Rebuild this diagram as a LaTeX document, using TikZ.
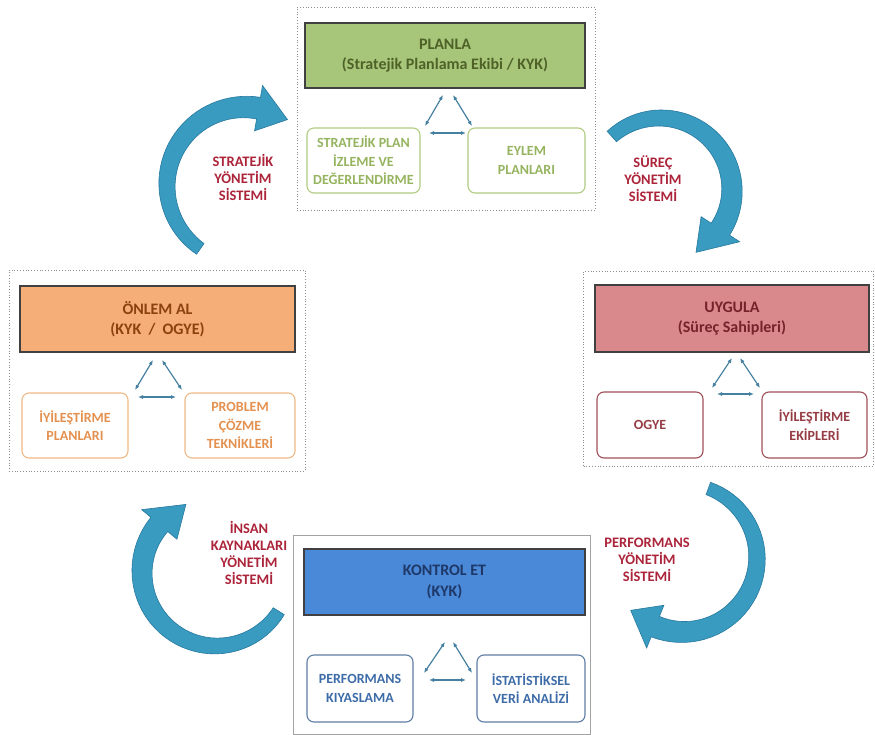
\documentclass[tikz,border=0pt]{standalone}
\usepackage{fontspec}
\setmainfont{Carlito}
\usetikzlibrary{arrows.meta}
\definecolor{arrowfill}{RGB}{58,155,192}
\definecolor{arrowedge}{RGB}{38,120,158}
\definecolor{lblred}{RGB}{172,36,58}
\definecolor{panelgray}{RGB}{140,140,140}
\definecolor{bargreen}{RGB}{168,198,122}
\definecolor{txtgreen}{RGB}{78,98,40}
\definecolor{subgreen}{RGB}{178,204,130}
\definecolor{subgreentxt}{RGB}{150,180,95}
\definecolor{barorange}{RGB}{246,174,120}
\definecolor{txtorange}{RGB}{140,66,15}
\definecolor{suborange}{RGB}{240,185,135}
\definecolor{suborangetxt}{RGB}{228,145,80}
\definecolor{barred}{RGB}{217,136,140}
\definecolor{txtred}{RGB}{118,34,42}
\definecolor{subred}{RGB}{160,80,88}
\definecolor{subredtxt}{RGB}{150,60,68}
\definecolor{barblue}{RGB}{74,136,216}
\definecolor{txtblue}{RGB}{30,56,104}
\definecolor{subblue}{RGB}{95,125,165}
\definecolor{subbluetxt}{RGB}{62,108,168}
\definecolor{triarrow}{RGB}{70,128,160}
\newcommand{\bigcurvedarrow}[9]{%
  \fill[arrowfill,draw=arrowedge,line width=0.6pt]
    plot[domain=#4:#5,samples=40,variable=\t]
      ({#1+(#3+(#7+(#8-#7)*(\t-#4)/(#5-#4))/2)*cos(\t)},{#2+(#3+(#7+(#8-#7)*(\t-#4)/(#5-#4))/2)*sin(\t)})
    -- ({#1+(#3+#9)*cos(#5)},{#2+(#3+#9)*sin(#5)})
    -- ({#1+#3*cos(#6)},{#2+#3*sin(#6)})
    -- ({#1+(#3-#9)*cos(#5)},{#2+(#3-#9)*sin(#5)})
    -- plot[domain=#5:#4,samples=40,variable=\t]
      ({#1+(#3-(#7+(#8-#7)*(\t-#4)/(#5-#4))/2)*cos(\t)},{#2+(#3-(#7+(#8-#7)*(\t-#4)/(#5-#4))/2)*sin(\t)})
    -- cycle;}
\begin{document}
\begin{tikzpicture}[x=1pt,y=-1pt,
  panel/.style={draw=panelgray,dotted,line width=0.8pt,fill=white},
  bar/.style={draw=black!75,line width=1.4pt,font=\bfseries\fontsize{16}{20.5}\selectfont,align=center,inner sep=0pt},
  subbox/.style={rounded corners=7pt,line width=1.1pt,fill=white,font=\bfseries\fontsize{14}{18.5}\selectfont,align=center,inner sep=0pt},
  lbl/.style={text=lblred,font=\bfseries\fontsize{14.5}{17}\selectfont,align=center},
  tri/.style={triarrow,line width=1.2pt,{Latex[length=5pt,width=4pt]}-{Latex[length=5pt,width=4pt]}}
]
\useasboundingbox (0,0) rectangle (875,735);
\fill[white] (0,0) rectangle (875,735);

% panels
\node[panel,minimum width=298,minimum height=203] (ptop) at (446,108.5) {};
\node[panel,minimum width=296,minimum height=201] (pleft) at (157,370.5) {};
\node[panel,minimum width=290,minimum height=195] (pright) at (728.5,368.5) {};
\node[draw=panelgray!80,line width=0.8pt,minimum width=297,minimum height=199,fill=white] (pbot) at (441.5,634.5) {};

% bars
\node[bar,fill=bargreen,text=txtgreen,minimum width=280,minimum height=65] (planla) at (445,55.5) {PLANLA\\(Stratejik Planlama Ekibi / KYK)};
\node[bar,fill=barorange,text=txtorange,minimum width=275,minimum height=66] (onlem) at (157.5,319) {ÖNLEM AL\\(KYK~~/~~OGYE)};
\node[bar,fill=barred,text=txtred,minimum width=274,minimum height=67] (uygula) at (732,318.5) {UYGULA\\(Süreç Sahipleri)};
\node[bar,fill=barblue,text=txtblue,minimum width=281,minimum height=66] (kontrol) at (444.5,582) {KONTROL ET\\(KYK)};

% sub boxes
\node[subbox,draw=subgreen,text=subgreentxt,minimum width=113,minimum height=65] (sp) at (363.5,160.5) {STRATEJİK PLAN\\İZLEME VE\\DEĞERLENDİRME};
\node[subbox,draw=subgreen,text=subgreentxt,minimum width=117,minimum height=65] (ep) at (526.5,160.5) {EYLEM\\PLANLARI};
\node[subbox,draw=suborange,text=suborangetxt,minimum width=106,minimum height=65] (ip) at (75,425.5) {İYİLEŞTİRME\\PLANLARI};
\node[subbox,draw=suborange,text=suborangetxt,minimum width=110,minimum height=65] (pc) at (240,425.5) {PROBLEM\\ÇÖZME\\TEKNİKLERİ};
\node[subbox,draw=subred,text=subredtxt,minimum width=106,minimum height=66] (og) at (650,425) {OGYE};
\node[subbox,draw=subred,text=subredtxt,minimum width=105,minimum height=66] (ie) at (814.5,425) {İYİLEŞTİRME\\EKİPLERİ};
\node[subbox,draw=subblue,text=subbluetxt,minimum width=106,minimum height=67] (pk) at (360,688.5) {PERFORMANS\\KIYASLAMA};
\node[subbox,draw=subblue,text=subbluetxt,minimum width=108,minimum height=67] (iv) at (531,688.5) {İSTATİSTİKSEL\\VERİ ANALİZİ};

% small triangles of double arrows
\coordinate (ta1) at (443,95);  \coordinate (tb1) at (425,126);
\coordinate (ta2) at (453,95);  \coordinate (tb2) at (472,126);
\coordinate (tc1) at (429,133); \coordinate (tc2) at (466,133);
\draw[tri] (ta1) -- (tb1); \draw[tri] (ta2) -- (tb2); \draw[tri] (tc1) -- (tc2);

\coordinate (la1) at (153,360); \coordinate (lb1) at (135,390);
\coordinate (la2) at (162,360); \coordinate (lb2) at (182,390);
\coordinate (lc1) at (138,397); \coordinate (lc2) at (176,397);
\draw[tri] (la1) -- (lb1); \draw[tri] (la2) -- (lb2); \draw[tri] (lc1) -- (lc2);

\coordinate (ra1) at (732,358); \coordinate (rb1) at (712,388);
\coordinate (ra2) at (740,358); \coordinate (rb2) at (760,388);
\coordinate (rc1) at (717,394); \coordinate (rc2) at (754,394);
\draw[tri] (ra1) -- (rb1); \draw[tri] (ra2) -- (rb2); \draw[tri] (rc1) -- (rc2);

\coordinate (ba1) at (445,642); \coordinate (bb1) at (424,673);
\coordinate (ba2) at (453,642); \coordinate (bb2) at (472,673);
\coordinate (bc1) at (429,680); \coordinate (bc2) at (466,680);
\draw[tri] (ba1) -- (bb1); \draw[tri] (ba2) -- (bb2); \draw[tri] (bc1) -- (bc2);

% big curved arrows
\bigcurvedarrow{245}{185}{78}{125}{280}{303}{13}{22}{23}
\bigcurvedarrow{660}{190}{72}{228}{393}{420}{14}{22}{23}
\bigcurvedarrow{683}{558}{74}{-70}{112}{135}{13}{22}{23}
\bigcurvedarrow{216}{572}{74}{32}{220}{246}{13}{22}{23}

% labels
\node[lbl] (l1) at (243,177) {STRATEJİK\\YÖNETİM\\SİSTEMİ};
\node[lbl] (l2) at (653,179) {SÜREÇ\\YÖNETİM\\SİSTEMİ};
\node[lbl] (l3) at (249,553) {İNSAN\\KAYNAKLARI\\YÖNETİM\\SİSTEMİ};
\node[lbl] (l4) at (647,560) {PERFORMANS\\YÖNETİM\\SİSTEMİ};
\end{tikzpicture}
\end{document}
